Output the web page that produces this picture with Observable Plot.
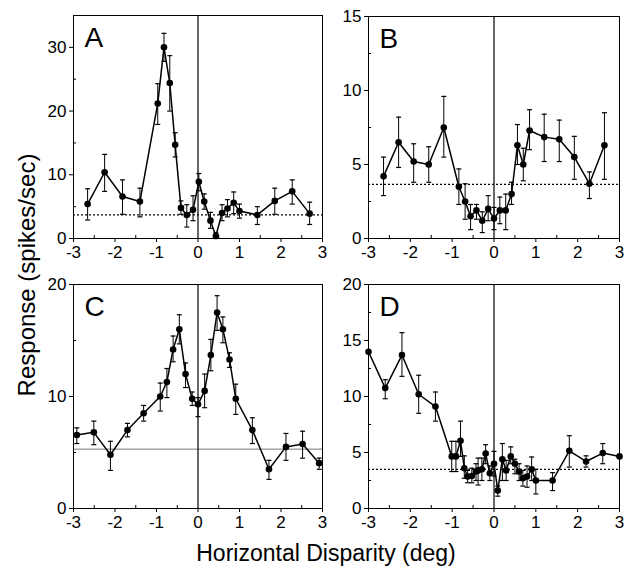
<!DOCTYPE html>
<html>
<head>
<meta charset="utf-8">
<script src="https://cdn.jsdelivr.net/npm/d3@7"></script>
<script src="https://cdn.jsdelivr.net/npm/@observablehq/plot@0.6"></script>
<style>
  html, body { margin: 0; padding: 0; background: white; }
  #root { position: relative; width: 637px; height: 570px; background: white; overflow: hidden;
          font-family: "Liberation Sans", Arial, Helvetica, sans-serif; color: black; }
  .panel { position: absolute; }
  .xlabel { position: absolute; left: 326px; top: 542px; transform: translateX(-50%);
            font-size: 23px; line-height: 1; white-space: nowrap; }
  .ylabel { position: absolute; left: 27px; top: 275px; transform: translate(-50%, -50%) rotate(-90deg);
            font-size: 24px; line-height: 1; white-space: nowrap; }
</style>
</head>
<body>
<div id="root">
  <div class="xlabel">Horizontal Disparity (deg)</div>
  <div class="ylabel">Response (spikes/sec)</div>
</div>
<script>
// ---------- Data ----------
const xTicks = [-3, -2, -1, 0, 1, 2, 3];
const xMinor = [-2.5, -1.5, -0.5, 0.5, 1.5, 2.5];

// Panel A
const aX  = [-2.66, -2.25, -1.82, -1.40, -0.97, -0.82, -0.68, -0.55, -0.41, -0.27, -0.12, 0.02, 0.15, 0.30, 0.43, 0.58, 0.71, 0.86, 1.00, 1.43, 1.85, 2.27, 2.69];
const aY  = [5.4, 10.4, 6.6, 5.8, 21.2, 30.0, 24.4, 14.7, 4.8, 3.7, 4.5, 8.9, 5.8, 2.8, 0.4, 4.0, 4.7, 5.6, 4.3, 3.7, 5.9, 7.4, 3.9];
const aLo = [2.9, 7.4, 3.8, 3.4, 17.9, 27.8, 20.0, 12.8, 3.8, 1.8, 2.8, 7.5, 4.6, 1.6, 0.0, 2.8, 3.4, 3.9, 3.2, 2.2, 3.8, 5.4, 2.2];
const aHi = [7.8, 13.2, 9.2, 7.9, 24.3, 32.2, 28.7, 16.6, 5.9, 5.3, 6.7, 10.2, 7.0, 4.1, 0.9, 5.3, 6.1, 7.3, 5.4, 5.0, 7.9, 9.2, 5.7];
const aBase = 3.7;
const aYTicks = [0, 10, 20, 30];
const aYMinor = [5, 15, 25];

// Panel B
const bX  = [-2.64, -2.28, -1.92, -1.56, -1.20, -0.84, -0.69, -0.56, -0.42, -0.28, -0.14, 0.00, 0.14, 0.28, 0.42, 0.56, 0.70, 0.85, 1.20, 1.56, 1.92, 2.28, 2.64];
const bY  = [4.2, 6.5, 5.2, 5.0, 7.5, 3.5, 2.5, 1.5, 1.9, 1.2, 2.0, 1.35, 1.9, 1.9, 3.0, 6.3, 5.0, 7.3, 6.85, 6.7, 5.5, 3.7, 6.3];
const bLo = [2.9, 4.8, 3.8, 3.8, 5.5, 2.3, 1.3, 0.6, 1.3, 0.4, 1.2, 0.6, 1.0, 0.6, 2.3, 5.0, 3.9, 6.0, 5.2, 5.2, 4.0, 2.7, 4.0];
const bHi = [5.5, 8.2, 6.4, 6.2, 9.6, 4.7, 3.7, 2.3, 2.3, 1.8, 2.9, 2.1, 2.8, 3.0, 3.8, 7.7, 6.1, 8.7, 8.4, 8.0, 6.9, 4.5, 8.5];
const bBase = 3.66;
const bYTicks = [0, 5, 10, 15];
const bYMinor = [2.5, 7.5, 12.5];

// Panel C
const cX  = [-2.92, -2.51, -2.11, -1.70, -1.31, -0.91, -0.75, -0.60, -0.45, -0.30, -0.14, 0.00, 0.16, 0.31, 0.46, 0.60, 0.76, 0.91, 1.31, 1.71, 2.12, 2.52, 2.92];
const cY  = [6.56, 6.8, 4.8, 7.0, 8.5, 10.0, 11.3, 14.2, 16.0, 12.0, 9.8, 9.3, 10.5, 13.7, 17.5, 16.0, 13.3, 9.8, 7.0, 3.5, 5.5, 5.75, 4.05];
const cLo = [5.8, 5.7, 3.4, 6.4, 7.8, 8.7, 9.9, 13.1, 14.7, 10.8, 9.2, 8.2, 9.0, 12.3, 15.9, 14.8, 12.6, 8.4, 5.8, 2.6, 4.3, 4.5, 3.5];
const cHi = [7.2, 7.8, 6.0, 7.6, 9.2, 11.2, 12.5, 15.4, 17.3, 13.0, 10.4, 9.9, 12.0, 15.1, 19.0, 17.1, 13.9, 11.1, 8.1, 4.3, 6.7, 6.9, 4.5];
const cBase = 5.3;
const cYTicks = [0, 10, 20];
const cYMinor = [5, 15];

// Panel D
const dX  = [-3.00, -2.60, -2.20, -1.80, -1.40, -1.01, -0.91, -0.80, -0.71, -0.63, -0.53, -0.43, -0.38, -0.29, -0.20, -0.10, 0.00, 0.09, 0.20, 0.29, 0.40, 0.50, 0.60, 0.69, 0.79, 0.90, 1.00, 1.40, 1.80, 2.20, 2.60, 3.00];
const dY  = [14.0, 10.75, 13.7, 10.2, 9.1, 4.65, 4.65, 6.05, 3.6, 2.85, 2.9, 3.3, 3.4, 3.5, 4.9, 3.15, 4.0, 1.6, 4.4, 3.4, 4.65, 4.0, 3.3, 2.7, 2.85, 3.5, 2.5, 2.5, 5.15, 4.2, 4.95, 4.65];
const dLo = [14.0, 9.8, 11.8, 8.5, 7.8, 3.3, 3.3, 4.65, 2.7, 2.3, 2.3, 2.5, 2.1, 2.5, 4.0, 2.5, 2.9, 1.1, 2.5, 2.5, 4.0, 3.1, 2.5, 2.0, 1.9, 2.5, 1.3, 1.6, 3.7, 3.7, 4.0, 4.65];
const dHi = [14.0, 11.5, 15.7, 11.9, 10.4, 6.0, 6.0, 7.8, 4.7, 3.4, 3.6, 4.0, 4.5, 4.5, 5.7, 3.8, 5.1, 2.0, 5.8, 4.3, 5.5, 4.4, 4.0, 3.4, 3.8, 4.6, 3.5, 3.2, 6.5, 4.7, 5.8, 4.65];
const dBase = 3.5;
const dYTicks = [0, 5, 10, 15, 20];
const dYMinor = [2.5, 7.5, 12.5, 17.5];

// ---------- Drawing ----------
const capSymbol = {
  draw(context, size) {
    const w = Math.sqrt(size / Math.PI);
    context.moveTo(-w, 0);
    context.lineTo(w, 0);
  }
};
const fmt = d => (d < 0 ? "-" + Math.abs(d) : String(d));

function panel(spec) {
  const data = spec.x.map((x, i) => ({x, y: spec.y[i], lo: spec.lo[i], hi: spec.hi[i]}));
  const chart = Plot.plot({
    width: spec.width,
    height: spec.height,
    marginLeft: spec.mL, marginRight: spec.mR, marginTop: spec.mT, marginBottom: spec.mB,
    style: {fontSize: "17px", fontFamily: "'Liberation Sans', Arial, Helvetica, sans-serif",
            background: "transparent", color: "black", overflow: "visible"},
    x: {domain: [-3, 3]},
    y: {domain: spec.yDomain},
    marks: [
      Plot.axisX({ticks: xTicks, tickFormat: fmt, tickSize: 4, tickPadding: 3, label: null, strokeWidth: 1}),
      Plot.axisX({ticks: xMinor, tickSize: -3, text: null, label: null}),
      Plot.axisY({ticks: spec.yTicks, tickFormat: fmt, tickSize: 4, tickPadding: 3, label: null}),
      Plot.axisY({ticks: spec.yMinor, tickSize: -3, text: null, label: null}),
      Plot.ruleY([spec.base], spec.solidBase
        ? {stroke: "#777", strokeWidth: 1}
        : {stroke: "black", strokeWidth: 1.2, strokeDasharray: "2,2"}),
      Plot.ruleX([0], {stroke: "black", strokeWidth: 1.2}),
      Plot.ruleX(data, {x: "x", y1: "lo", y2: "hi", stroke: "black", strokeWidth: 1}),
      Plot.dot(data, {x: "x", y: "hi", symbol: capSymbol, r: 2.5, stroke: "black", strokeWidth: 1.2}),
      Plot.dot(data, {x: "x", y: "lo", symbol: capSymbol, r: 2.5, stroke: "black", strokeWidth: 1.2}),
      Plot.line(data, {x: "x", y: "y", stroke: "black", strokeWidth: 1.5}),
      Plot.dot(data, {x: "x", y: "y", r: 3.3, fill: "black", stroke: "none"}),
      Plot.text([spec.letter], {frameAnchor: "top-left", dx: 11, dy: 12, fontSize: 28, fill: "black"}),
      Plot.frame({stroke: "black", strokeWidth: 1})
    ]
  });
  chart.classList.add("panel");
  chart.style.left = spec.left + "px";
  chart.style.top = spec.top + "px";
  document.getElementById("root").appendChild(chart);
}

panel({letter: "A", x: aX, y: aY, lo: aLo, hi: aHi, base: aBase, yDomain: [0, 35], yTicks: aYTicks, yMinor: aYMinor,
       left: 0, top: 0, width: 330, height: 265, mL: 73, mR: 8, mT: 15, mB: 27});
panel({letter: "B", x: bX, y: bY, lo: bLo, hi: bHi, base: bBase, yDomain: [0, 15], yTicks: bYTicks, yMinor: bYMinor,
       left: 330, top: 0, width: 307, height: 265, mL: 38, mR: 18, mT: 16, mB: 27});
panel({letter: "C", x: cX, y: cY, lo: cLo, hi: cHi, base: cBase, solidBase: true, yDomain: [0, 20], yTicks: cYTicks, yMinor: cYMinor,
       left: 0, top: 265, width: 330, height: 270, mL: 73, mR: 8, mT: 19, mB: 27});
panel({letter: "D", x: dX, y: dY, lo: dLo, hi: dHi, base: dBase, yDomain: [0, 20], yTicks: dYTicks, yMinor: dYMinor,
       left: 330, top: 265, width: 307, height: 270, mL: 38, mR: 18, mT: 19, mB: 27});
</script>
</body>
</html>
